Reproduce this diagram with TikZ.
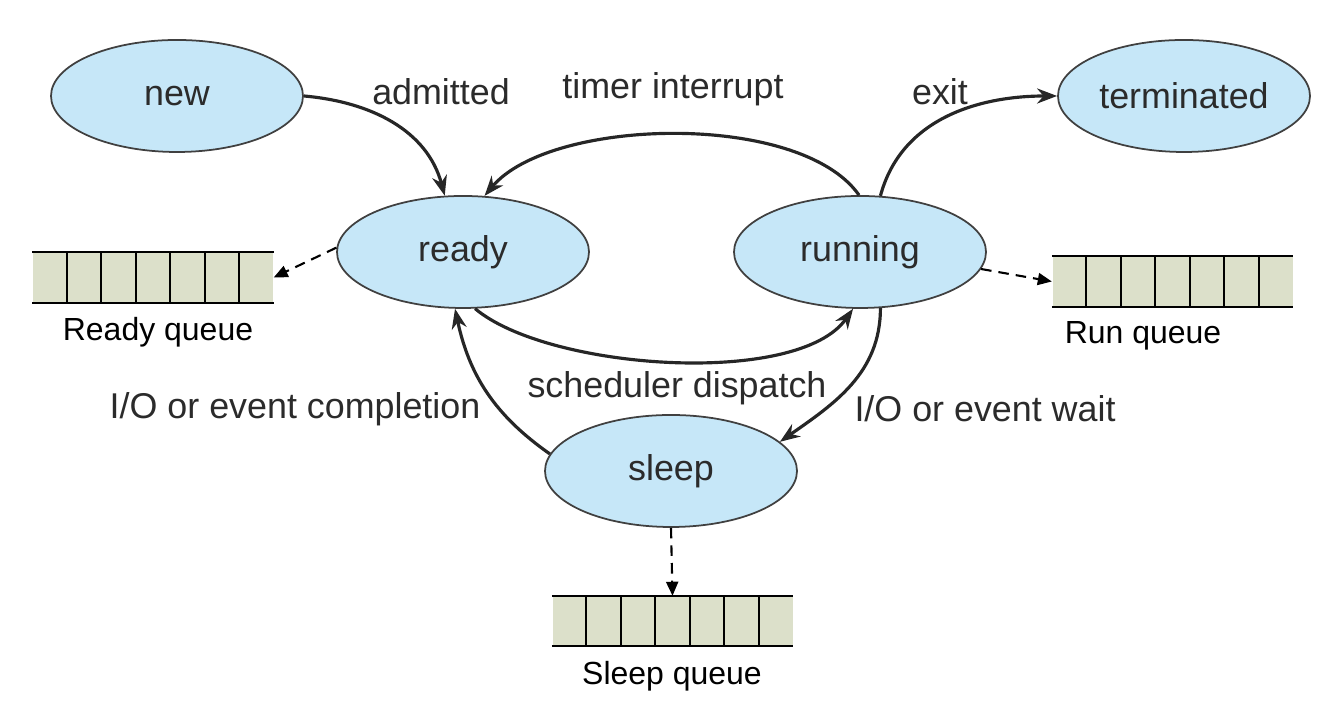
\documentclass[tikz,border=0pt]{standalone}
\usepackage{fontspec}
\setmainfont{Liberation Sans}
\usetikzlibrary{shapes.geometric,arrows.meta,calc}
\definecolor{statefill}{HTML}{C6E7F8}
\definecolor{queuefill}{HTML}{DCE0CA}
\definecolor{textgray}{HTML}{2B2B2B}
%% cells and rails of a queue node
\newcommand{\queuecells}[1]{%
    \foreach \i in {1,...,6}
        \draw[line width=0.6pt] ($(#1.south west)!\i/7!(#1.south east)$) -- ($(#1.north west)!\i/7!(#1.north east)$);
    \draw[line width=0.6pt] (#1.north west) -- (#1.north east) (#1.south west) -- (#1.south east);
}

\begin{document}
\begin{tikzpicture}[
        state/.style={ellipse,draw=black!75,fill=statefill,line width=0.5pt,
            minimum width=2.52cm,minimum height=1.12cm,inner sep=0pt,
            font=\fontsize{10.2}{12}\selectfont,text=textgray},
        qbox/.style={fill=queuefill,minimum width=2.4cm,minimum height=0.49cm,inner sep=0pt},
        qlabel/.style={font=\fontsize{9.1}{11}\selectfont},
        elabel/.style={font=\fontsize{10.2}{12}\selectfont,text=textgray},
        trans/.style={line width=0.9pt,black!85,-{Stealth[length=2mm,width=1.5mm]}},
        qarrow/.style={line width=0.6pt,dash pattern=on 3pt off 2pt,-{Triangle[length=1.4mm,width=1.2mm]}}
    ]
    \useasboundingbox (0,0) rectangle (13.19,7.08);
    %% States
    \node[state] (new) at (1.77,6.12) {new};
    \node[state] (ready) at (4.63,4.56) {ready};
    \node[state] (running) at (8.60,4.56) {running};
    \node[state] (term) at (11.84,6.12) {terminated};
    \node[state] (sleep) at (6.71,2.37) {sleep};
    %% Queues
    \node[qbox] (readyq) at (1.53,4.305) {};
    \queuecells{readyq}
    \node[qlabel] (readyql) at (1.58,3.76) {Ready queue};
    \node[qbox] (runq) at (11.725,4.265) {};
    \queuecells{runq}
    \node[qlabel] (runql) at (11.43,3.72) {Run queue};
    \node[qbox] (sleepq) at (6.725,0.87) {};
    \queuecells{sleepq}
    \node[qlabel] (sleepql) at (6.72,0.32) {Sleep queue};
    %% Transitions
    \draw[trans] (new.east) to[out=-5,in=105] (ready.108);
    \draw[trans] (running.91) to[out=125,in=50,looseness=0.7] (ready.69);
    \draw[trans] (running.70) to[out=75,in=180] (term.west);
    \draw[trans] (ready.-78) to[out=-40,in=-125,looseness=0.65] (running.-97);
    \draw[trans] (sleep.172) to[out=145,in=-78] (ready.-98);
    \draw[trans] (running.-70) to[out=-90,in=35] (sleep.15);
    %% Queue links
    \draw[qarrow] (ready.178) -- (readyq.east);
    \draw[qarrow] (running.-8) -- (runq.west);
    \draw[qarrow] (sleep.south) -- (sleepq.north);
    %% Transition labels
    \node[elabel] (admitl) at (4.41,6.16) {admitted};
    \node[elabel] (timerl) at (6.73,6.19) {timer interrupt};
    \node[elabel] (exitl) at (9.40,6.16) {exit};
    \node[elabel] (displ) at (6.77,3.20) {scheduler dispatch};
    \node[elabel] (compl) at (2.95,2.99) {I/O or event completion};
    \node[elabel] (waitl) at (9.85,2.99) {I/O or event wait};
\end{tikzpicture}
\end{document}
